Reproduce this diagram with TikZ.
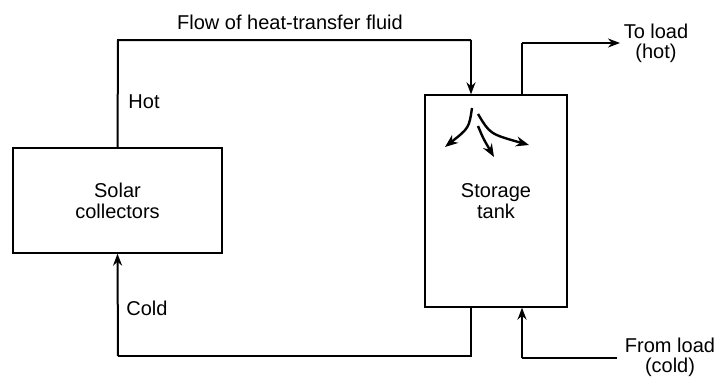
\documentclass[tikz,border=0pt]{standalone}
\usepackage{fontspec}
\setmainfont{Liberation Sans}
\usepackage{tikz}
\usetikzlibrary{arrows.meta, positioning, calc}

\begin{document}
\begin{tikzpicture}[
  x=1pt, y=-1pt,
  block/.style={draw, line width=1.3pt, minimum width=#1, align=center, font=\fontsize{20}{21}\selectfont},
  pipe/.style={line width=2pt},
  flow/.style={line width=2pt, -{Stealth[length=12pt, width=9pt]}},
  swirl/.style={line width=2.4pt, -{Stealth[length=13pt, width=10pt]}},
  lbl/.style={font=\fontsize{20}{20}\selectfont, align=center}
]
\useasboundingbox (0,0) rectangle (717,378);

% Blocks
\node[block=209pt, minimum height=105pt] (collector) at (117.5, 200.5) {Solar\\collectors};
\node[block=142pt, minimum height=212pt] (tank) at (496, 201) {Storage\\tank};

% Pipe corners
\coordinate (topleft) at (118, 40);
\coordinate (topright) at (471, 40);
\coordinate (botleft) at (118, 356);
\coordinate (botright) at (471, 356);
\coordinate (hotout) at (522, 43);
\coordinate (hotend) at (620, 43);
\coordinate (coldin) at (522, 358);
\coordinate (coldstart) at (617, 358);

% --- Collector loop ---
\draw[pipe] (collector.north) -- (topleft) -- (topright);
\draw[flow] (topright) -- (topright |- tank.north);
\draw[pipe] (botright |- tank.south) -- (botright) -- (botleft);
\draw[flow] (botleft) -- (collector.south);

% --- Load loop ---
\draw[pipe] (hotout |- tank.north) -- (hotout);
\draw[flow] (hotout) -- (hotend);
\draw[pipe] (coldstart) -- (coldin);
\draw[flow] (coldin) -- (coldin |- tank.south);

% --- Mixing inside the tank ---
\draw[swirl] (472,108) .. controls (469,128) .. (445,147);
\draw[swirl] (478,126) .. controls (483,138) .. (494,157);
\draw[swirl] (478,114) .. controls (490,134) .. (529,145);

% Labels
\node[lbl] (flowlbl) at (290, 22) {Flow of heat-transfer fluid};
\node[lbl] (hotlbl) at (144, 102) {Hot};
\node[lbl] (coldlbl) at (147, 308) {Cold};
\node[lbl] (toload) at (656, 43) {To load\\(hot)};
\node[lbl] (fromload) at (670, 357) {From load\\(cold)};

\end{tikzpicture}
\end{document}
